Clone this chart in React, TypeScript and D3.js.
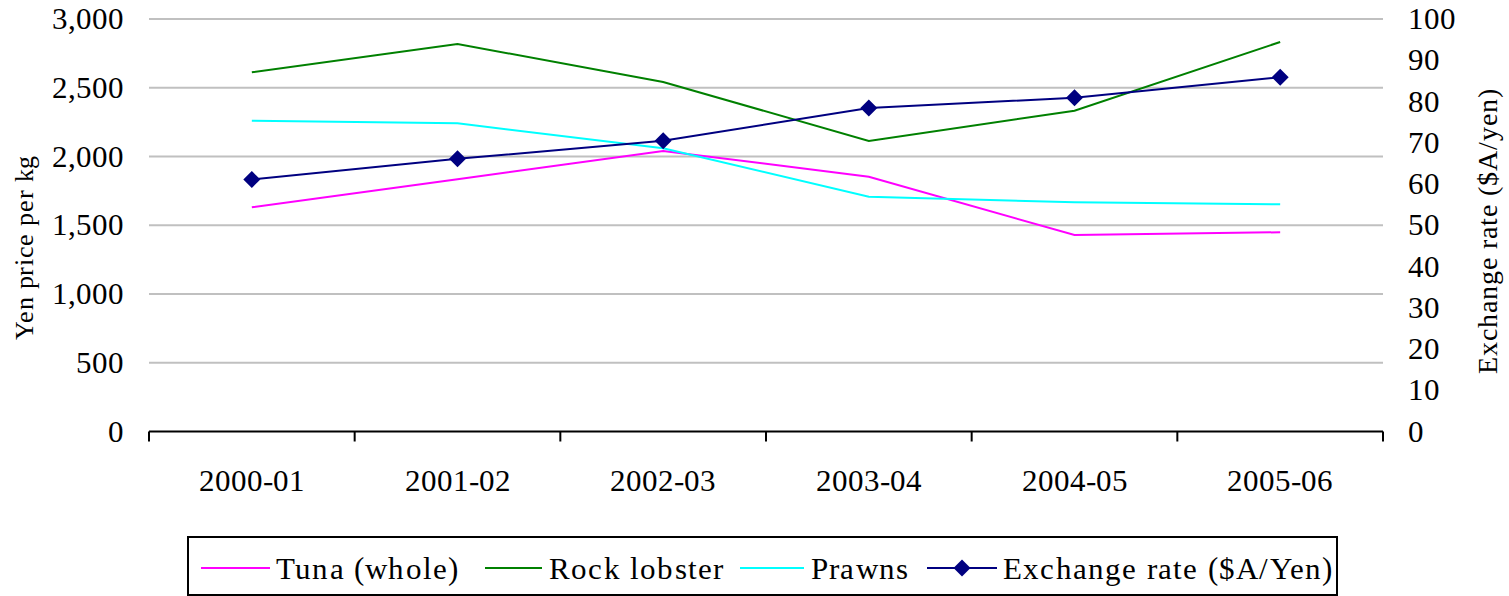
import React, { useEffect, useState } from 'react';
import * as d3 from 'd3';

const categories = ['2000-01', '2001-02', '2002-03', '2003-04', '2004-05', '2005-06'];
const tuna = [1631, 1835, 2040, 1853, 1429, 1449];
const rockLobster = [2612, 2818, 2542, 2113, 2333, 2833];
const prawns = [2260, 2241, 2060, 1708, 1667, 1652];
const exchangeRate = [61.1, 66.1, 70.5, 78.4, 80.9, 85.9];

const leftTicks = [0, 500, 1000, 1500, 2000, 2500, 3000];
const rightTicks = [0, 10, 20, 30, 40, 50, 60, 70, 80, 90, 100];

const priceSeries = [
  { name: 'Tuna (whole)', values: tuna, color: '#FF00FF' },
  { name: 'Rock lobster', values: rockLobster, color: '#008000' },
  { name: 'Prawns', values: prawns, color: '#00FFFF' },
];

const WIDTH = 1509;
const HEIGHT = 596;
const FONT = "ChartSerif, 'Liberation Serif', 'Times New Roman', Times, Tinos, serif";
const FONT_FACE = `@font-face { font-family: 'ChartSerif'; src: local('Liberation Serif'), local('LiberationSerif'), local('Liberation Serif Regular'), local('LiberationSerif-Regular'), local('Times New Roman'); }`;

export default function App() {
  // system fonts sometimes are not ready on first layout: lay text out again a few times
  const [gen, setGen] = useState(0);
  useEffect(() => {
    const timers = [100, 400, 900, 1800, 3000].map((ms, i) => setTimeout(() => setGen(i + 1), ms));
    return () => timers.forEach(clearTimeout);
  }, []);
  const fs = (base: number) => base + gen * 0.001;

  const margin = { top: 19, left: 149, right: 1383, bottom: 431.5 };

  const xScale = d3
    .scaleBand()
    .domain(categories)
    .range([margin.left, margin.right]);

  const yLeft = d3.scaleLinear().domain([0, 3000]).range([margin.bottom, margin.top]);
  const yRight = d3.scaleLinear().domain([0, 100]).range([margin.bottom, margin.top]);

  const cx = (c: string) => (xScale(c) || 0) + xScale.bandwidth() / 2;

  const priceLine = d3
    .line<number>()
    .x((_, i) => cx(categories[i]))
    .y(d => yLeft(d));

  const rateLine = d3
    .line<number>()
    .x((_, i) => cx(categories[i]))
    .y(d => yRight(d));

  const diamond = (x: number, y: number, r: number) =>
    `M${x},${y - r}L${x + r},${y}L${x},${y + r}L${x - r},${y}Z`;

  const fmt = d3.format(',');
  const txt = { fontFamily: FONT, fill: '#000' } as React.CSSProperties;

  // legend layout
  const legendY = 568;
  const legendItems = [
    { name: 'Tuna (whole)', color: '#FF00FF', x1: 201, x2: 270, tx: 276, marker: false },
    { name: 'Rock lobster', color: '#008000', x1: 485, x2: 542, tx: 549, marker: false },
    { name: 'Prawns', color: '#00FFFF', x1: 740, x2: 804, tx: 811, marker: false },
    { name: 'Exchange rate ($A/Yen)', color: '#000080', x1: 927, x2: 997, tx: 1003, marker: true },
  ];

  return (
    <svg
      key={gen}
      width={WIDTH}
      height={HEIGHT}
      viewBox={`0 0 ${WIDTH} ${HEIGHT}`}
      style={{ position: 'absolute', left: 0, top: 0, background: '#fff' }}
    >
      <style>{FONT_FACE}</style>

      {/* gridlines */}
      <g>
        {leftTicks.slice(1).map(t => (
          <line
            key={t}
            x1={margin.left}
            x2={margin.right}
            y1={yLeft(t)}
            y2={yLeft(t)}
            stroke="#c0c0c0"
            strokeWidth={2}
          />
        ))}
      </g>

      {/* left axis labels */}
      <g>
        {leftTicks.map(t => (
          <text key={t} x={124} y={yLeft(t) + 10} fontSize={fs(31)} textAnchor="end" style={txt}>
            {fmt(t)}
          </text>
        ))}
        <text
          transform={`translate(33, ${(margin.top + margin.bottom) / 2 + 22}) rotate(-90)`}
          fontSize={fs(26)}
          textAnchor="middle"
          letterSpacing={0.6}
          style={txt}
        >
          Yen price per kg
        </text>
      </g>

      {/* right axis labels */}
      <g>
        {rightTicks.map(t => (
          <text key={t} x={1408} y={yRight(t) + 10} fontSize={fs(31)} textAnchor="start" style={txt}>
            {t}
          </text>
        ))}
        <text
          transform={`translate(1497, ${(margin.top + margin.bottom) / 2 + 6}) rotate(-90)`}
          fontSize={fs(28)}
          textAnchor="middle"
          letterSpacing={1}
          style={txt}
        >
          Exchange rate ($A/yen)
        </text>
      </g>

      {/* x axis */}
      <g>
        <line x1={margin.left} x2={margin.right} y1={margin.bottom} y2={margin.bottom} stroke="#000" strokeWidth={2} />
        {categories.map(c => (
          <line
            key={'t' + c}
            x1={xScale(c)}
            x2={xScale(c)}
            y1={margin.bottom}
            y2={margin.bottom + 10}
            stroke="#000"
            strokeWidth={2}
          />
        ))}
        <line x1={margin.right} x2={margin.right} y1={margin.bottom} y2={margin.bottom + 10} stroke="#000" strokeWidth={2} />
        {categories.map(c => (
          <text key={c} x={cx(c)} y={491} fontSize={fs(31)} textAnchor="middle" style={txt}>
            {c}
          </text>
        ))}
      </g>

      {/* price lines */}
      {priceSeries.map(s => (
        <path key={s.name} d={priceLine(s.values) || ''} fill="none" stroke={s.color} strokeWidth={2} />
      ))}

      {/* exchange rate */}
      <path d={rateLine(exchangeRate) || ''} fill="none" stroke="#000080" strokeWidth={2} />
      {exchangeRate.map((v, i) => (
        <path key={i} d={diamond(cx(categories[i]), yRight(v), 8.5)} fill="#000080" />
      ))}

      {/* legend */}
      <rect x={188} y={537} width={1149} height={58} fill="#fff" stroke="#000" strokeWidth={2} />
      {legendItems.map(l => (
        <g key={l.name}>
          <line x1={l.x1} x2={l.x2} y1={legendY} y2={legendY} stroke={l.color} strokeWidth={2} />
          {l.marker ? <path d={diamond((l.x1 + l.x2) / 2, legendY, 8.5)} fill={l.color} /> : null}
          <text x={l.tx} y={legendY + 11} fontSize={fs(31)} letterSpacing={1.2} style={txt}>
            {l.name}
          </text>
        </g>
      ))}
    </svg>
  );
}
